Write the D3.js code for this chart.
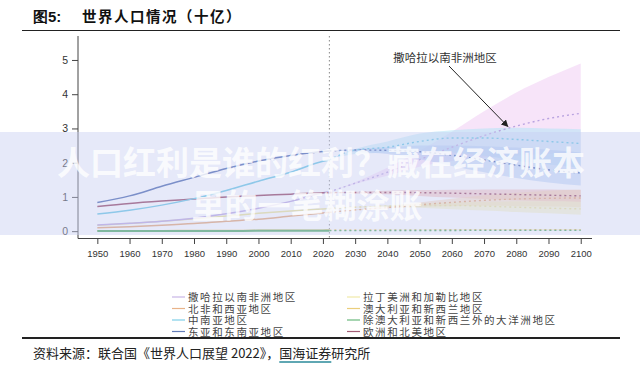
<!DOCTYPE html>
<html><head><meta charset="utf-8">
<script src="https://cdn.jsdelivr.net/npm/d3@7/dist/d3.min.js"></script>
<style>
html,body{margin:0;padding:0;background:#fff;}
svg{display:block;}
</style></head>
<body>
<svg id="c" width="640" height="368"></svg>
<script>
// ---------- data (billions) ----------
const histYears = [1950,1960,1970,1980,1990,2000,2010,2020,2022];
const projYears = [2022,2030,2040,2050,2060,2070,2080,2090,2100];
const xTicks = [1950,1960,1970,1980,1990,2000,2010,2020,2030,2040,2050,2060,2070,2080,2090,2100];
const yTicks = [0,1,2,3,4,5];

const regionNames = ["撒哈拉以南非洲地区","北非和西亚地区","中南亚地区","东亚和东南亚地区",
                     "拉丁美洲和加勒比地区","澳大利亚和新西兰地区","除澳大利亚和新西兰外的大洋洲地区","欧洲和北美地区"];
const regionColors = ["#b9a3e0","#e3a06c","#5fc3e2","#3d5ca8","#ebe394","#e6c25a","#46a65c","#8c3454"];
const bandColors   = ["#f1cdf4","#f7cfa8","#b5e3f6","#a9c6f2","#f6efb0","#f4e0a0","#b8e0c0","#f3aca6"];

const hist = [
  [0.18,0.23,0.29,0.38,0.51,0.67,0.87,1.12,1.15],
  [0.10,0.13,0.17,0.22,0.29,0.35,0.44,0.53,0.55],
  [0.50,0.61,0.76,0.95,1.19,1.46,1.72,2.04,2.08],
  [0.84,1.03,1.31,1.57,1.83,2.05,2.21,2.33,2.34],
  [0.17,0.22,0.29,0.36,0.44,0.52,0.59,0.65,0.66],
  [0.010,0.013,0.015,0.018,0.020,0.023,0.026,0.030,0.031],
  [0.003,0.003,0.004,0.005,0.007,0.009,0.011,0.013,0.014],
  [0.72,0.81,0.88,0.94,1.00,1.04,1.08,1.12,1.12]
];
const proj = [
  [1.15,1.40,1.72,2.09,2.45,2.79,3.07,3.29,3.44],
  [0.55,0.62,0.69,0.77,0.84,0.90,0.94,0.96,0.97],
  [2.08,2.37,2.45,2.62,2.72,2.72,2.68,2.62,2.56],
  [2.34,2.37,2.36,2.32,2.22,2.08,1.93,1.79,1.70],
  [0.66,0.70,0.73,0.75,0.75,0.73,0.70,0.67,0.65],
  [0.031,0.034,0.036,0.038,0.040,0.042,0.043,0.044,0.045],
  [0.014,0.015,0.017,0.020,0.021,0.022,0.023,0.023,0.023],
  [1.12,1.13,1.13,1.125,1.11,1.09,1.07,1.05,1.03]
];
const projLow = [
  [1.15,1.38,1.62,1.88,2.05,2.15,2.20,2.25,2.30],
  [0.55,0.61,0.66,0.71,0.73,0.74,0.73,0.72,0.70],
  [2.08,2.25,2.30,2.35,2.30,2.20,2.05,1.95,1.85],
  [2.34,2.32,2.25,2.10,1.90,1.72,1.55,1.42,1.33],
  [0.66,0.69,0.70,0.68,0.64,0.60,0.56,0.52,0.48],
  [0.031,0.033,0.034,0.035,0.035,0.035,0.035,0.034,0.034],
  [0.014,0.015,0.016,0.017,0.017,0.017,0.017,0.016,0.016],
  [1.12,1.10,1.08,1.03,0.98,0.94,0.90,0.87,0.85]
];
const projHigh = [
  [1.15,1.43,1.85,2.35,2.90,3.50,4.05,4.50,4.90],
  [0.55,0.63,0.73,0.84,0.95,1.05,1.12,1.18,1.22],
  [2.08,2.40,2.62,2.85,2.95,3.00,3.02,3.00,2.98],
  [2.34,2.40,2.45,2.50,2.50,2.48,2.44,2.38,2.30],
  [0.66,0.71,0.76,0.81,0.84,0.86,0.87,0.87,0.86],
  [0.031,0.035,0.038,0.042,0.046,0.050,0.053,0.056,0.058],
  [0.014,0.016,0.019,0.023,0.026,0.029,0.031,0.033,0.035],
  [1.12,1.15,1.18,1.20,1.21,1.22,1.22,1.22,1.20]
];
const markYear = 2022;
const annotationText = "撒哈拉以南非洲地区";
const annotationYear = 2078, annotationValue = 3.0;
const titleNum = "图5:";
const titleText = "世界人口情况（十亿）";
const sourceParts = ["资料来源：联合国《世界人口展望 2022》，","国海证券","研究所"];
const overlayLines = ["人口红利是谁的红利？藏在经济账本","里的一笔糊涂账"];

// ---------- drawing ----------
const svg = d3.select("#c");
const x = d3.scaleLinear().domain([1944, 2103.5]).range([78, 592]);
const y = d3.scaleLinear().domain([-0.2, 5.7]).range([238, 36]);
const sans = "'Liberation Sans', Arial, sans-serif";
const cjk = "'Noto Sans CJK SC', sans-serif";

// title
svg.append("text").attr("x",33).attr("y",22).attr("font-family",sans).attr("font-weight","bold")
  .attr("font-size",15).attr("fill","#111").text(titleNum);
svg.append("text").attr("x",82).attr("y",22).attr("font-family",cjk).attr("font-weight","bold")
  .attr("font-size",14.5).attr("fill","#111").attr("letter-spacing",1.5).text(titleText);
svg.append("line").attr("x1",22).attr("x2",620).attr("y1",30.5).attr("y2",30.5).attr("stroke","#222").attr("stroke-width",1.2);

// bands
const area = d3.area().x((d,i)=>x(projYears[i])).y0(d=>y(d[0])).y1(d=>y(d[1])).curve(d3.curveMonotoneX);
const bandOrder = [0,2,3,7,1,4,5,6];
bandOrder.forEach(k=>{
  const pts = projLow[k].map((v,i)=>[v,projHigh[k][i]]);
  svg.append("path").attr("d",area(pts)).attr("fill",bandColors[k]).attr("fill-opacity",0.55);
});

// vertical marker
svg.append("line").attr("x1",x(markYear)).attr("x2",x(markYear)).attr("y1",36).attr("y2",238)
  .attr("stroke","#888").attr("stroke-width",1).attr("stroke-dasharray","1.5,2.5");

const line = d3.line().curve(d3.curveMonotoneX);
const drawOrder = [4,1,0,7,2,3,5,6];
drawOrder.forEach(k=>{
  svg.append("path").attr("d",line(hist[k].map((v,i)=>[x(histYears[i]),y(v)])))
    .attr("fill","none").attr("stroke",regionColors[k]).attr("stroke-width",k===6?2:1.5);
  svg.append("path").attr("d",line(proj[k].map((v,i)=>[x(projYears[i]),y(v)])))
    .attr("fill","none").attr("stroke",regionColors[k]).attr("stroke-width",1.4)
    .attr("stroke-dasharray","2,3");
});

// axes
const yAxis = d3.axisLeft(y).tickValues(yTicks).tickSize(6).tickPadding(4).tickFormat(d3.format("d"));
const gy = svg.append("g").attr("transform","translate(78,0)").call(yAxis);
gy.select(".domain").remove();
gy.selectAll("line").attr("stroke","#444");
gy.selectAll("text").attr("font-family",sans).attr("font-size",10.5).attr("fill","#333");
const xAxis = d3.axisBottom(x).tickValues(xTicks).tickSize(6).tickPadding(6).tickFormat(d3.format("d"));
const gx = svg.append("g").attr("transform","translate(0,238)").call(xAxis);
gx.select(".domain").remove();
gx.selectAll("line").attr("stroke","#444");
gx.selectAll("text").attr("font-family",sans).attr("font-size",9.5).attr("fill","#333");
svg.append("path").attr("d",`M78,36V238.5H592`).attr("fill","none").attr("stroke","#444").attr("stroke-width",1);

// annotation
svg.append("defs").append("marker").attr("id","ah").attr("viewBox","0 0 10 10").attr("refX",9).attr("refY",5)
  .attr("markerWidth",7).attr("markerHeight",7).attr("orient","auto")
  .append("path").attr("d","M0,0L10,5L0,10z").attr("fill","#222");
svg.append("text").attr("x",445).attr("y",62).attr("text-anchor","middle").attr("font-family",cjk)
  .attr("font-size",11.5).attr("fill","#333").text(annotationText);
svg.append("line").attr("x1",449).attr("y1",66).attr("x2",x(annotationYear)-2).attr("y2",y(annotationValue)-2)
  .attr("stroke","#222").attr("stroke-width",1).attr("marker-end","url(#ah)");

// legend
const legRowsY = [297,308.5,320,331.5];
regionNames.forEach((n,i)=>{
  const col = Math.floor(i/4), row = i%4;
  const lx = col===0 ? 172 : 347;
  const g = svg.append("g");
  g.append("line").attr("x1",lx).attr("x2",lx+13).attr("y1",legRowsY[row]).attr("y2",legRowsY[row])
    .attr("stroke",regionColors[i]).attr("stroke-width",1.2).attr("stroke-opacity",0.8);
  g.append("text").attr("x",lx+16).attr("y",legRowsY[row]+4).attr("font-family",cjk)
    .attr("font-size",10.5).attr("letter-spacing",1.6).attr("fill","#444").text(n);
});
svg.append("line").attr("x1",22).attr("x2",620).attr("y1",338).attr("y2",338).attr("stroke","#222").attr("stroke-width",1.8);

// source
const src = svg.append("text").attr("x",33).attr("y",358).attr("font-family",cjk).attr("font-size",13).attr("fill","#222");
src.append("tspan").text(sourceParts[0]);
src.append("tspan").text(sourceParts[1]);
src.append("tspan").text(sourceParts[2]);
const node = src.node();
const s0 = node.getSubStringLength(0, sourceParts[0].length);
const s1 = node.getSubStringLength(sourceParts[0].length, sourceParts[1].length);
svg.append("line").attr("x1",33+s0).attr("x2",33+s0+s1).attr("y1",362).attr("y2",362).attr("stroke","#2a8a9a").attr("stroke-width",1.5);

// overlay banner
svg.append("rect").attr("x",0).attr("y",132).attr("width",640).attr("height",103)
  .attr("fill","#c8cff2").attr("fill-opacity",0.45);
svg.append("text").attr("x",321).attr("y",175).attr("text-anchor","middle").attr("font-family",cjk)
  .attr("font-weight","bold").attr("font-size",33).attr("fill","#fff").attr("fill-opacity",0.8).text(overlayLines[0]);
svg.append("text").attr("x",307).attr("y",218).attr("text-anchor","middle").attr("font-family",cjk)
  .attr("font-weight","bold").attr("font-size",33).attr("fill","#fff").attr("fill-opacity",0.8).text(overlayLines[1]);
</script>
</body></html>
